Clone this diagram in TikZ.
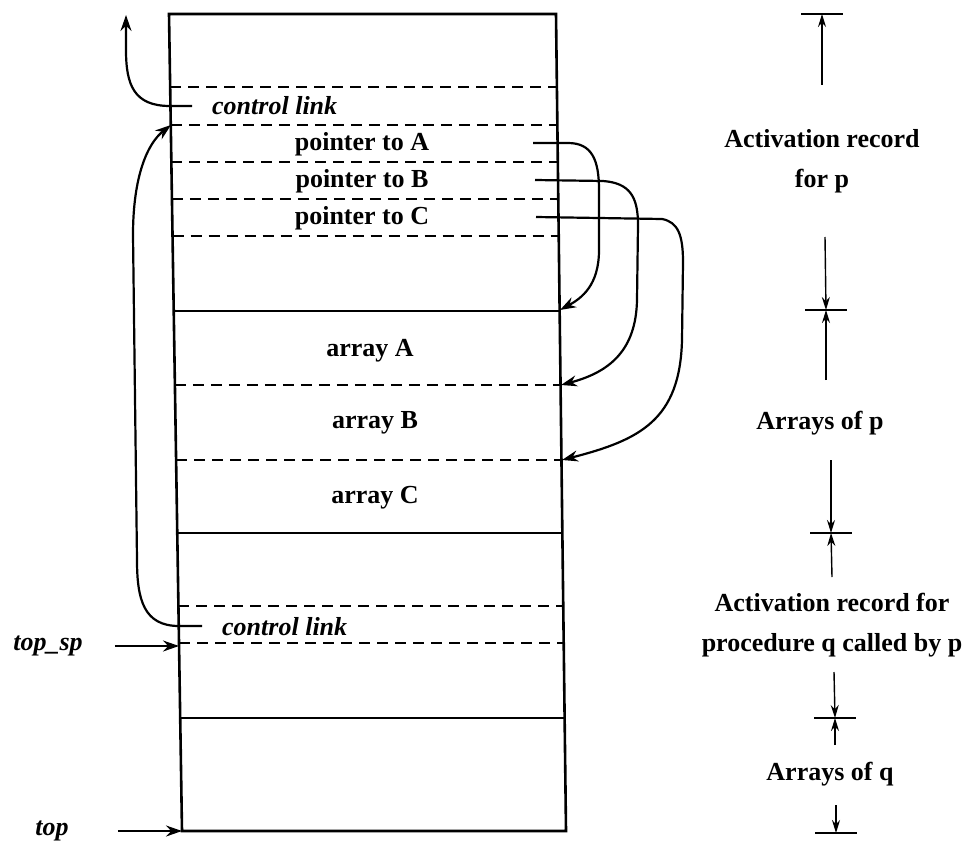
\documentclass[tikz,border=0pt]{standalone}
\usepackage{fontspec}
\setmainfont{Liberation Serif}
\usetikzlibrary{arrows.meta}
\begin{document}
\begin{tikzpicture}[x=1pt,y=-1pt,
  solidln/.style={line width=2.6pt},
  dashln/.style={line width=1.9pt, dash pattern=on 11pt off 7pt},
  lbl/.style={font=\fontsize{26}{28}\selectfont\bfseries, inner sep=0pt},
  ilbl/.style={font=\fontsize{26}{28}\selectfont\bfseries\itshape, inner sep=0pt},
  rlbl/.style={font=\fontsize{26}{40}\selectfont\bfseries, inner sep=0pt, align=center},
  link/.style={line width=2.2pt, -{Stealth[length=16pt,width=11pt]}},
  dimln/.style={line width=1.4pt, -{Stealth[length=13pt,width=8pt]}},
  barln/.style={line width=2.4pt}]
\useasboundingbox (0,0) rectangle (971,840);
% stack box (slightly skewed like the scan)
\coordinate (TL) at (169,14);
\coordinate (TR) at (556,14);
\coordinate (BR) at (566,831);
\coordinate (BL) at (182,831);
\draw[solidln] (TL) -- (TR) -- (BR) -- (BL) -- cycle;
\foreach \y in {311,533,718} {
  \pgfmathsetmacro\xl{169+13*(\y-14)/817}
  \pgfmathsetmacro\xr{556+10*(\y-14)/817}
  \draw[solidln] (\xl,\y) -- (\xr,\y);
}
\foreach \y in {87,125,162,199,236,385,460,606,643} {
  \pgfmathsetmacro\xl{169+13*(\y-14)/817}
  \pgfmathsetmacro\xr{556+10*(\y-14)/817}
  \draw[dashln] (\xl,\y) -- (\xr,\y);
}
% texts in the box
\node[ilbl, anchor=west] (cl1) at (212,106) {control link};
\node[lbl] (pA) at (362,144) {pointer to A};
\node[lbl] (pB) at (362,181) {pointer to B};
\node[lbl] (pC) at (362,218) {pointer to C};
\node[lbl] (arA) at (370,351) {array A};
\node[lbl] (arB) at (375,423) {array B};
\node[lbl] (arC) at (375,498) {array C};
\node[ilbl, anchor=west] (cl2) at (222,627) {control link};
% control links
\coordinate (cl1s) at (192,106);
\coordinate (upend) at (126,15);
\draw[link] (cl1s) -- (170,106) .. controls (134,106) and (126,85) .. (126,50) -- (upend);
\coordinate (cl2s) at (202,626);
\coordinate (cl1t) at (171,125);
\draw[link] (cl2s) -- (179,626) .. controls (144,626) and (137,600) .. (137,560) -- (133,235) .. controls (133,175) and (148,143) .. (cl1t);
% pointers
\coordinate (pAs) at (533,143);
\coordinate (aA) at (560,310);
\draw[link] (pAs) -- (568,143) .. controls (592,143) and (599,160) .. (599,190) -- (599,250) .. controls (599,285) and (582,298) .. (aA);
\coordinate (pBs) at (535,180);
\coordinate (aB) at (561,385);
\draw[link] (pBs) -- (603,181) .. controls (630,183) and (638,197) .. (638,225) -- (637,300) .. controls (636,350) and (610,372) .. (aB);
\coordinate (pCs) at (536,217);
\coordinate (aC) at (562,460);
\draw[link] (pCs) -- (662,219) .. controls (678,222) and (683,235) .. (683,262) -- (682,340) .. controls (680,420) and (640,440) .. (aC);
% top_sp and top
\node[ilbl] (tsp) at (48,646) {top\_sp};
\coordinate (tspa) at (179,646);
\draw[link] ([xshift=32pt]tsp.east) -- (tspa);
\node[ilbl] (tp) at (52,831) {top};
\coordinate (tpa) at (182,831);
\draw[link] ([xshift=49pt]tp.east) -- (tpa);
% right dimension labels
\coordinate (b0) at (822,14);
\coordinate (b1) at (826,310);
\coordinate (b2) at (831,533);
\coordinate (b3) at (835,718);
\coordinate (b4) at (836,833);
\foreach \b in {b0,b1,b2,b3,b4}
  \draw[barln] ([xshift=-21pt]\b) -- ([xshift=21pt]\b);
\node[rlbl] (r1) at (822,161) {Activation record\\for p};
\node[rlbl] (r2) at (820,423) {Arrays of p};
\node[rlbl] (r3) at (832,625) {Activation record for\\procedure q called by p};
\node[rlbl] (r4) at (830,774) {Arrays of q};
\draw[dimln] (822,85) -- (b0);
\draw[dimln] (825,237) -- (b1);
\draw[dimln] (826,380) -- (b1);
\draw[dimln] (831,460) -- (b2);
\draw[dimln] (832,577) -- (b2);
\draw[dimln] (834,672) -- (b3);
\draw[dimln] (835,745) -- (b3);
\draw[dimln] (836,805) -- (b4);
\end{tikzpicture}
\end{document}
